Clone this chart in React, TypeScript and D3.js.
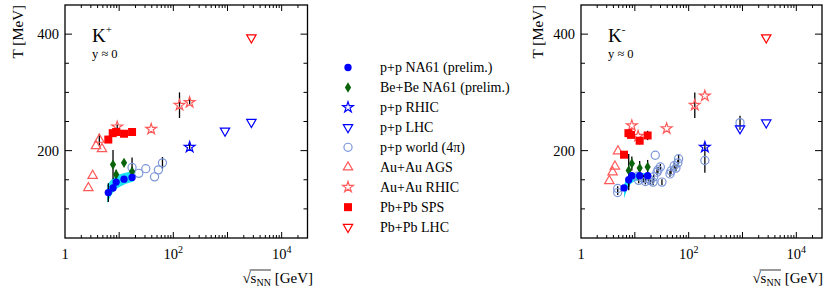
import React, { useEffect, useRef } from 'react'
import * as d3 from 'd3'

// [sqrt(s_NN) GeV, T MeV, error MeV]
type Pt = [number, number, number]

// ---- K+ panel ----
const kpPpNA61: Pt[] = [[6.3, 128, 16], [7.7, 136, 6], [8.8, 146, 5], [12.3, 151, 4], [17.3, 154, 4]]
const kpBeBe: Pt[] = [[7.7, 176, 25], [8.8, 159, 8], [12.3, 179, 5], [17.3, 164, 8]]
const kpPpRHIC: Pt[] = [[200, 206, 5]]
const kpPpLHC: Pt[] = [[900, 234, 0], [2760, 249, 0]]
const kpPpWorld: Pt[] = [[17.3, 171, 17], [23, 161, 0], [31, 169, 0], [45, 155, 0], [53, 167, 0], [63, 179, 10]]
const kpAuAuAGS: Pt[] = [[2.7, 136, 0], [3.24, 157, 0], [3.73, 208, 0], [4.3, 219, 10], [4.82, 203, 0]]
const kpAuAuRHIC: Pt[] = [[9.2, 241, 4], [39, 237, 0], [130, 278, 22], [200, 283, 5]]
const kpPbPbSPS: Pt[] = [[6.3, 219, 0], [7.6, 230, 4], [8.8, 232, 4], [12.3, 229, 4], [17.3, 232, 4]]
const kpPbPbLHC: Pt[] = [[2760, 394, 0]]
const kpBandE = [6.0, 7.7, 12, 18.5]
const kpBandLo = [110, 128, 141, 147]
const kpBandHi = [141, 153, 161, 165]

// ---- K- panel ----
const kmPpNA61: Pt[] = [[6.3, 136, 4], [7.7, 150, 18], [8.8, 157, 6], [12.3, 157, 6], [17.3, 157, 6]]
const kmBeBe: Pt[] = [[7.7, 166, 28], [8.8, 178, 12], [12.3, 170, 12], [17.3, 172, 12]]
const kmPpRHIC: Pt[] = [[200, 206, 6]]
const kmPpLHC: Pt[] = [[900, 238, 0], [2760, 248, 0]]
const kmPpWorld: Pt[] = [
  [4.8, 135, 4], [4.8, 128, 4], [11.3, 156, 5], [11.8, 149, 5], [14.5, 152, 6], [15.7, 147, 5],
  [18, 152, 5], [19.5, 149, 6], [21.8, 146, 5], [22.4, 155, 5], [24, 192, 0], [25.8, 163, 5],
  [27, 167, 5], [29.8, 172, 5], [31.9, 146, 5], [45, 160, 5], [47, 165, 5], [54, 174, 5],
  [58, 170, 5], [63, 179, 5], [65, 186, 8], [200, 183, 21], [900, 248, 12]
]
const kmAuAuAGS: Pt[] = [[3.36, 148, 0], [3.87, 163, 0], [4.27, 173, 0], [4.87, 199, 0]]
const kmAuAuRHIC: Pt[] = [[8.8, 243, 0], [11.5, 225, 0], [39, 238, 0], [130, 278, 22], [200, 294, 0]]
const kmPbPbSPS: Pt[] = [[6.3, 193, 5], [7.6, 230, 6], [8.5, 227, 5], [12.3, 217, 6], [17.3, 226, 8]]
const kmPbPbLHC: Pt[] = [[2760, 394, 0]]
const kmBandE = [6.3, 8.2, 12, 19]
const kmBandLo = [118, 142, 150, 152]
const kmBandHi = [141, 159, 161, 162]

const legendLabels = [
  'p+p NA61 (prelim.)', 'Be+Be NA61 (prelim.)', 'p+p RHIC', 'p+p LHC', 'p+p world (4π)',
  'Au+Au AGS', 'Au+Au RHIC', 'Pb+Pb SPS', 'Pb+Pb LHC'
]

const yTicksMajor = [200, 400]
const xLabelExp = [0, 2, 4]

const FONT = "'Liberation Serif', 'Times New Roman', serif"

// narrow ROOT-like diamond
const narrowDiamond = {
  draw(ctx: any, size: number) {
    const h = Math.sqrt(size) * 0.8
    const w = h * 0.6
    ctx.moveTo(0, -h); ctx.lineTo(w, 0); ctx.lineTo(0, h); ctx.lineTo(-w, 0); ctx.closePath()
  }
}

// marker styles in legend order
const styles = [
  { type: d3.symbolCircle, size: 42, fill: '#0000ff', stroke: 'none', rot: 0 },
  { type: narrowDiamond, size: 42, fill: '#0b640b', stroke: 'none', rot: 0 },
  { type: d3.symbolStar, size: 36, fill: 'none', stroke: '#0000ff', rot: 0 },
  { type: d3.symbolTriangle, size: 38, fill: 'none', stroke: '#0000ff', rot: 180 },
  { type: d3.symbolCircle, size: 52, fill: 'none', stroke: '#7b96d8', rot: 0 },
  { type: d3.symbolTriangle, size: 38, fill: 'none', stroke: '#ff5a5a', rot: 0 },
  { type: d3.symbolStar, size: 36, fill: 'none', stroke: '#ff5a5a', rot: 0 },
  { type: d3.symbolSquare, size: 64, fill: '#ff0000', stroke: 'none', rot: 0 },
  { type: d3.symbolTriangle, size: 38, fill: 'none', stroke: '#ff0000', rot: 180 }
]

const panels = [
  {
    x0: 65, x1: 307.5, sup: '+', titleX: 23, xTitleEnd: 313,
    band: [kpBandE, kpBandLo, kpBandHi],
    data: [kpPpNA61, kpBeBe, kpPpRHIC, kpPpLHC, kpPpWorld, kpAuAuAGS, kpAuAuRHIC, kpPbPbSPS, kpPbPbLHC]
  },
  {
    x0: 581, x1: 822, sup: '-', titleX: 543, xTitleEnd: 823,
    band: [kmBandE, kmBandLo, kmBandHi],
    data: [kmPpNA61, kmBeBe, kmPpRHIC, kmPpLHC, kmPpWorld, kmAuAuAGS, kmAuAuRHIC, kmPbPbSPS, kmPbPbLHC]
  }
]

// draw order: index into series
const drawOrder = [4, 5, 6, 7, 8, 3, 2, 1, 0]

const yTop = 5, yBot = 238

const App = () => {
  const ref = useRef<SVGGElement>(null)

  useEffect(() => {
    const root = d3.select(ref.current)
    root.selectAll('*').remove()

    const sym = (i: number) => d3.symbol().type(styles[i].type as any).size(styles[i].size)()

    panels.forEach(p => {
      const x = d3.scaleLog().domain([1, 3e4]).range([p.x0, p.x1])
      const y = d3.scaleLinear().domain([50, 450]).range([yBot, yTop])
      const g = root.append('g')

      // band
      const [bE, bLo, bHi] = p.band
      const area = d3.area<number>()
        .x((_, i) => x(bE[i]))
        .y0((_, i) => y(bLo[i]))
        .y1((_, i) => y(bHi[i]))
        .curve(d3.curveMonotoneX)
      g.append('path').attr('d', area(bE)).attr('fill', '#1de0f0')

      // error bars
      p.data.forEach(s => s.filter(d => d[2] > 0).forEach(d => {
        g.append('line')
          .attr('x1', x(d[0])).attr('x2', x(d[0]))
          .attr('y1', y(d[1] - d[2])).attr('y2', y(d[1] + d[2]))
          .attr('stroke', '#000').attr('stroke-width', 1.3)
      }))

      // markers
      drawOrder.forEach(i => {
        const st = styles[i]
        g.selectAll(null).data(p.data[i]).enter().append('path')
          .attr('d', sym(i))
          .attr('transform', d => `translate(${x(d[0])},${y(d[1])}) rotate(${st.rot})`)
          .attr('fill', st.fill).attr('stroke', st.stroke).attr('stroke-width', 1.2)
      })

      // frame
      g.append('rect').attr('x', p.x0).attr('y', yTop)
        .attr('width', p.x1 - p.x0).attr('height', yBot - yTop)
        .attr('fill', 'none').attr('stroke', '#000').attr('stroke-width', 1.3)

      // y ticks
      d3.range(100, 450, 50).forEach(v => {
        const len = yTicksMajor.includes(v) ? 7 : 4
        g.append('line').attr('x1', p.x0).attr('x2', p.x0 + len).attr('y1', y(v)).attr('y2', y(v))
          .attr('stroke', '#000').attr('stroke-width', 1)
        g.append('line').attr('x1', p.x1).attr('x2', p.x1 - len).attr('y1', y(v)).attr('y2', y(v))
          .attr('stroke', '#000').attr('stroke-width', 1)
      })
      yTicksMajor.forEach(v => {
        g.append('text').attr('x', p.x0 - 6).attr('y', y(v)).attr('dy', '0.35em')
          .attr('text-anchor', 'end').attr('font-size', 14.5).attr('font-family', FONT).text(v)
      })

      // x ticks
      for (let k = 0; k <= 4; k++) {
        for (let m = 1; m <= 9; m++) {
          const v = m * Math.pow(10, k)
          if (v <= 1 || v >= 3e4) continue
          const len = m === 1 ? 6 : 3
          g.append('line').attr('x1', x(v)).attr('x2', x(v)).attr('y1', yBot).attr('y2', yBot - len)
            .attr('stroke', '#000').attr('stroke-width', 1)
          g.append('line').attr('x1', x(v)).attr('x2', x(v)).attr('y1', yTop).attr('y2', yTop + len)
            .attr('stroke', '#000').attr('stroke-width', 1)
        }
      }
      xLabelExp.forEach(e => {
        const t = g.append('text').attr('x', x(Math.pow(10, e))).attr('y', 259)
          .attr('text-anchor', 'middle').attr('font-size', 14.5).attr('font-family', FONT)
        if (e === 0) t.text('1')
        else {
          t.append('tspan').text('10')
          t.append('tspan').attr('dy', -6).attr('font-size', 10).text(e)
        }
      })

      // x title
      const xt = g.append('text').attr('x', p.xTitleEnd).attr('y', 283)
        .attr('text-anchor', 'end').attr('font-size', 15).attr('font-family', FONT)
      xt.append('tspan').text('√s')
      xt.append('tspan').attr('dy', 2.5).attr('font-size', 10).text('NN')
      xt.append('tspan').attr('dy', -2.5).text(' [GeV]')
      const node = xt.node() as SVGTextElement
      const ox1 = node.getStartPositionOfChar(1).x
      const ox2 = node.getEndPositionOfChar(3).x
      g.append('line').attr('x1', ox1 - 1).attr('x2', ox2).attr('y1', 270).attr('y2', 270)
        .attr('stroke', '#000').attr('stroke-width', 0.8)

      // y title
      g.append('text').attr('transform', `translate(${p.titleX},${yTop}) rotate(-90)`)
        .attr('text-anchor', 'end').attr('font-size', 15).attr('font-family', FONT).text('T [MeV]')

      // particle label
      const kt = g.append('text').attr('x', p.x0 + 27).attr('y', 42)
        .attr('font-size', 19).attr('font-family', FONT)
      kt.append('tspan').text('K')
      kt.append('tspan').attr('dy', -9).attr('font-size', 11).text(p.sup)
      g.append('text').attr('x', p.x0 + 27).attr('y', 58)
        .attr('font-size', 12.5).attr('font-family', FONT).text('y ≈ 0')
    })

    // legend
    const lg = root.append('g')
    legendLabels.forEach((lab, i) => {
      const cy = 67.5 + i * 19.95
      lg.append('path').attr('d', sym(i))
        .attr('transform', `translate(348,${cy}) rotate(${styles[i].rot})`)
        .attr('fill', styles[i].fill).attr('stroke', styles[i].stroke).attr('stroke-width', 1.2)
      lg.append('text').attr('x', 380).attr('y', cy + 4.5)
        .attr('font-size', 14).attr('font-family', FONT).text(lab)
    })
  }, [])

  return (
    <svg width={825} height={289} style={{ position: 'absolute', left: 0, top: 0, background: '#fff' }}>
      <g ref={ref} />
    </svg>
  )
}

export default App
